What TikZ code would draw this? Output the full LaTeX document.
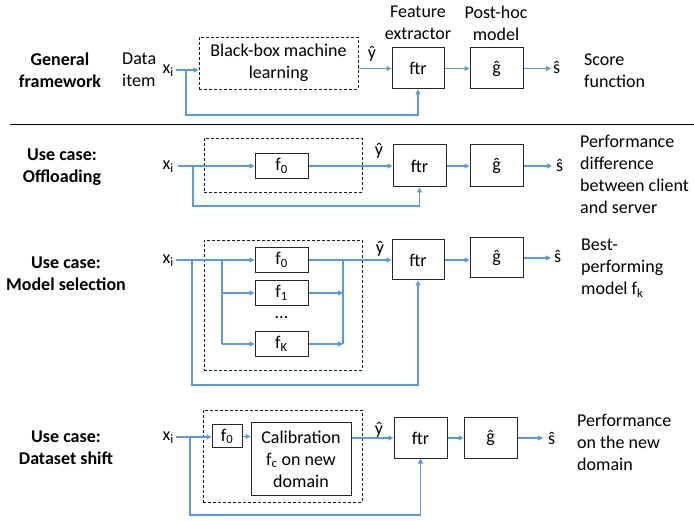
\documentclass[tikz,border=0pt]{standalone}
\usepackage{fontspec}
\setmainfont{Carlito}
\usetikzlibrary{arrows.meta,calc}
\definecolor{lineblue}{RGB}{91,155,213}
\begin{document}
\begin{tikzpicture}[x=1pt,y=-1pt, font=\fontsize{18}{22}\selectfont,
  box/.style={draw=black!85, line width=1pt, inner sep=0},
  dbox/.style={draw=black!90, line width=0.8pt, dash pattern=on 3pt off 2pt, inner sep=0},
  lbl/.style={inner sep=0, align=center},
  boldlbl/.style={lbl, font=\fontsize{18}{22}\selectfont\bfseries},
  side/.style={inner sep=0, align=left, anchor=west},
  ln/.style={draw=lineblue, line width=1.3pt},
  arr/.style={ln, -{Triangle[length=5pt,width=5pt]}},
  sym/.style={inner sep=0}]
\useasboundingbox (0,0) rectangle (694,521);

% ---------- General framework
\node[boldlbl] (t1) at (60,70) {General\\framework};
\node[side] (d1) at (122,70) {Data\\item};
\node[sym, anchor=base east] (x1) at (174,74) {x\textsubscript{i}};
\node[dbox, lbl, minimum width=159pt, minimum height=52pt] (bb1) at (278.5,63) {Black-box machine\\learning};
\node[box, minimum width=52pt, minimum height=41pt] (ftr1) at (418,68.5) {ftr};
\node[box, minimum width=53pt, minimum height=41pt] (g1) at (496.5,68.5) {ĝ};
\node[lbl] (fe1) at (418,23) {Feature\\extractor};
\node[lbl] (ph1) at (496,23) {Post-hoc\\model};
\node[sym, anchor=base] (y1) at (372,59) {ŷ};
\node[sym, anchor=base west] (s1) at (553,74) {ŝ};
\node[side] (sf1) at (584,71) {Score\\function};
\coordinate (a1) at (176,70);
\coordinate (b1) at (186,70);
\coordinate (c1) at (186,115);
\draw[arr] (a1) -- (bb1.west |- a1);
\draw[arr] (bb1.east |- ftr1.west) -- (ftr1.west);
\draw[arr] (b1) -- (c1) -| (ftr1.south);
\draw[arr] (ftr1) -- (g1);
\draw[arr, shorten >=2pt] (g1.east) -- (s1.west |- g1.east);

\coordinate (l1) at (10,125);
\coordinate (l2) at (694,125);
\draw[line width=1pt] (l1) -- (l2);

% ---------- Offloading
\node[boldlbl] (t2) at (62,167) {Use case:\\Offloading};
\node[sym, anchor=base east] (x2) at (174,170) {x\textsubscript{i}};
\node[dbox, minimum width=158pt, minimum height=54pt] (bb2) at (283,165) {};
\node[box, minimum width=53pt, minimum height=25pt] (f02) at (281.5,166) {f\textsubscript{0}};
\node[box, minimum width=53pt, minimum height=42pt] (ftr2) at (419.5,166) {ftr};
\node[box, minimum width=53pt, minimum height=42pt] (g2) at (496.5,166) {ĝ};
\node[sym, anchor=base] (y2) at (379,156) {ŷ};
\node[sym, anchor=base west] (s2) at (556,172) {ŝ};
\node[side] (p2) at (580,174) {Performance\\difference\\between client\\and server};
\coordinate (a2) at (178,166);
\coordinate (b2) at (193,166);
\coordinate (c2) at (193,206);
\draw[arr] (a2) -- (f02.west);
\draw[arr] (f02) -- (ftr2);
\draw[arr] (b2) -- (c2) -| (ftr2.south);
\draw[arr] (ftr2) -- (g2);
\draw[arr, shorten >=4pt] (g2.east) -- (s2.west |- g2.east);

% ---------- Model selection
\node[boldlbl] (t3) at (66,274) {Use case:\\Model selection};
\node[sym, anchor=base east] (x3) at (174,264) {x\textsubscript{i}};
\node[dbox, minimum width=158pt, minimum height=130pt] (bb3) at (283,305) {};
\node[box, minimum width=53pt, minimum height=25pt] (f03) at (281.5,260) {f\textsubscript{0}};
\node[box, minimum width=53pt, minimum height=25pt] (f13) at (281.5,293) {f\textsubscript{1}};
\node[lbl] (dots3) at (281.5,318) {...};
\node[box, minimum width=53pt, minimum height=25pt] (fK3) at (281.5,344) {f\textsubscript{K}};
\node[box, minimum width=52pt, minimum height=40pt] (ftr3) at (418,260) {ftr};
\node[box, minimum width=53pt, minimum height=40pt] (g3) at (496.5,258) {ĝ};
\node[sym, anchor=base] (y3) at (380,254) {ŷ};
\node[sym, anchor=base west] (s3) at (554,263) {ŝ};
\node[side] (p3) at (581,268) {Best-\\performing\\model f\textsubscript{k}};
\coordinate (a3) at (176,260);
\coordinate (b3) at (192,260);
\coordinate (c3) at (192,385);
\coordinate (i3) at (222,260);
\coordinate (j3) at (222,344);
\coordinate (k3) at (343,260);
\coordinate (m3) at (343,344);
\draw[arr] (a3) -- (f03.west);
\draw[ln] (i3) -- (j3);
\draw[arr] (i3 |- f13.west) -- (f13.west);
\draw[arr] (j3) -- (fK3.west);
\draw[arr] (f13.east) -- (k3 |- f13.east);
\draw[arr] (fK3.east) -- (m3);
\draw[ln] (m3) -- (k3);
\draw[arr] (f03.east) -- (ftr3.west);
\draw[arr] (b3) -- (c3) -| (ftr3.south);
\draw[arr] (ftr3.east) -- (g3.west |- ftr3.east);
\draw[arr, shorten >=3pt] (g3.east) -- (s3.west |- g3.east);

% ---------- Dataset shift
\node[boldlbl] (t4) at (66,447.5) {Use case:\\Dataset shift};
\node[sym, anchor=base east] (x4) at (174,441) {x\textsubscript{i}};
\node[dbox, minimum width=159pt, minimum height=92pt] (bb4) at (282.5,456) {};
\node[box, minimum width=30pt, minimum height=23pt] (f04) at (227,436.5) {f\textsubscript{0}};
\node[box, lbl, minimum width=100pt, minimum height=72pt] (cal4) at (301,459) {Calibration\\f\textsubscript{c} on new\\domain};
\node[box, minimum width=53pt, minimum height=40pt] (ftr4) at (420.5,438) {ftr};
\node[box, minimum width=53pt, minimum height=40pt] (g4) at (490.5,438) {ĝ};
\node[sym, anchor=base] (y4) at (379,435) {ŷ};
\node[sym, anchor=base west] (s4) at (548,444) {ŝ};
\node[side] (p4) at (577,442) {Performance\\on the new\\domain};
\coordinate (a4) at (176,437);
\coordinate (b4) at (190,437);
\coordinate (c4) at (190,515);
\draw[arr] (a4) -- (f04.west |- a4);
\draw[arr] (f04.east) -- (cal4.west |- f04.east);
\draw[arr] (cal4.east |- ftr4.west) -- (ftr4.west);
\draw[arr] (b4) -- (c4) -| (ftr4.south);
\draw[arr] (ftr4) -- (g4);
\draw[arr, shorten >=5pt] (g4.east) -- (s4.west |- g4.east);
\end{tikzpicture}
\end{document}
